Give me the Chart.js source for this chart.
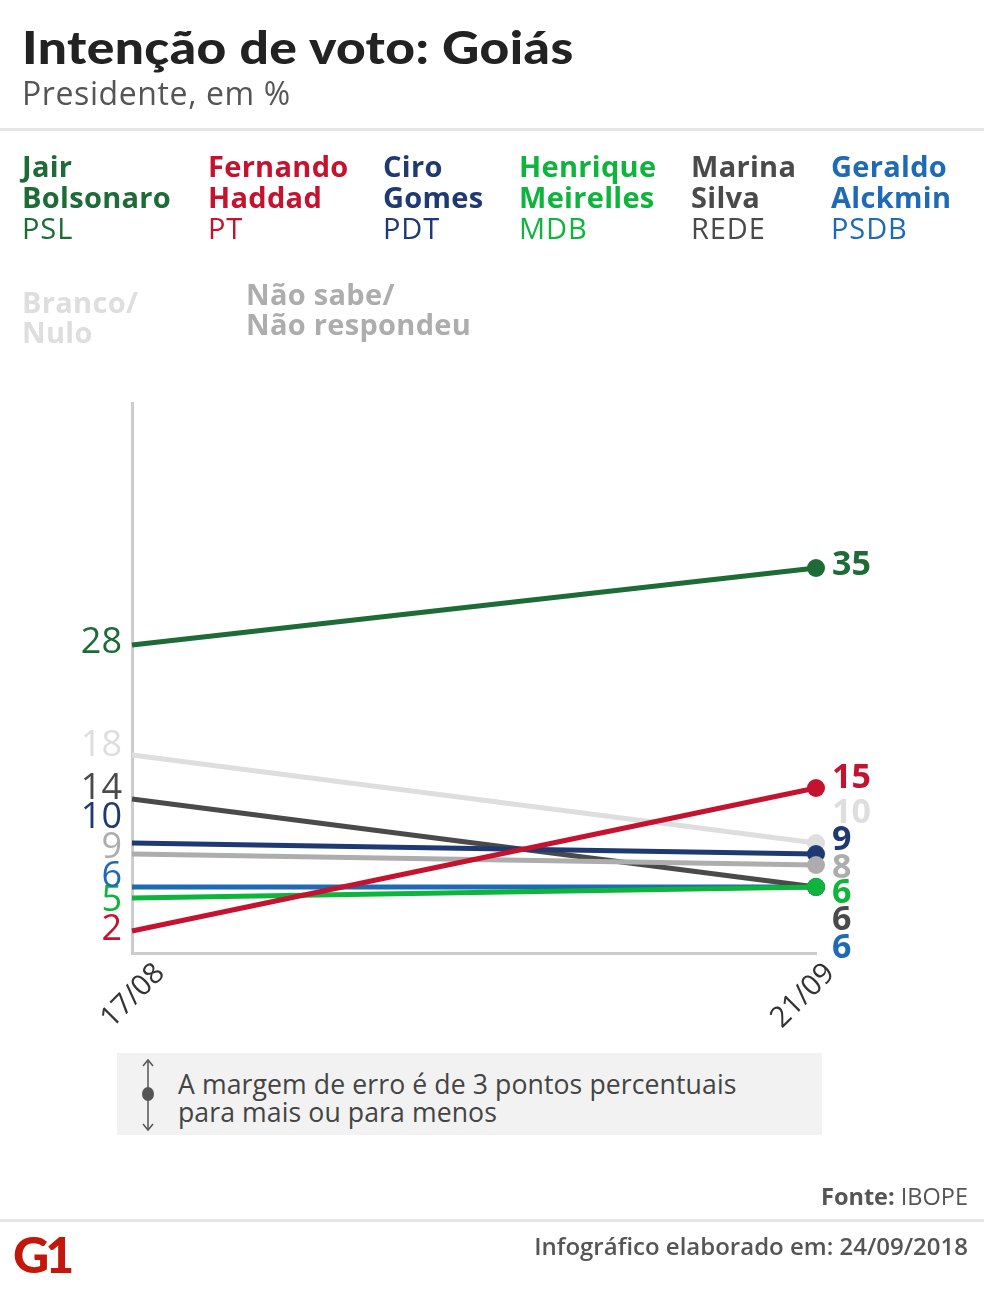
<!DOCTYPE html>
<html><head><meta charset="utf-8">
<script src="https://cdn.jsdelivr.net/npm/chart.js@4.4.1/dist/chart.umd.min.js"></script>
<style>
html,body{margin:0;padding:0;background:#fff;}
body{width:984px;height:1296px;position:relative;overflow:hidden;font-family:"Open Sans",sans-serif;}
#c{position:absolute;left:0;top:0;}
.t{position:absolute;white-space:nowrap;}
#title{left:22px;top:21px;font-family:Lato,sans-serif;font-weight:900;font-size:46px;line-height:52px;color:#222;transform:scaleX(1.12);transform-origin:0 50%;letter-spacing:0.4px;}
#sub{left:22px;top:74px;font-size:32px;line-height:38px;color:#555;letter-spacing:0.6px;}
.hr{position:absolute;left:0;width:984px;height:3px;background:#e6e6e6;}
.leg{position:absolute;font-size:29px;line-height:31px;letter-spacing:0.3px;}
.leg b{font-weight:700;display:block;}
.leg span{display:block;font-weight:400;font-size:29px;letter-spacing:0.9px;}
#note{position:absolute;left:117px;top:1053px;width:705px;height:82px;background:#f2f2f2;}
#notetxt{left:178px;top:1070px;font-size:26.6px;line-height:28px;color:#444;letter-spacing:0.1px;}
#fonte{right:16px;top:1182px;font-size:23.5px;line-height:28px;color:#555;}
#info{right:16px;top:1232px;font-size:24px;line-height:28px;color:#555;font-weight:600;}
#g1{left:13px;top:1226px;font-family:Lato,sans-serif;font-weight:900;font-size:50px;line-height:56px;color:#c4170c;letter-spacing:-4px;}
</style></head>
<body>
<canvas id="c" width="984" height="1296"></canvas>
<div class="t" id="title">Intenção de voto: Goiás</div>
<div class="t" id="sub">Presidente, em %</div>
<div class="hr" style="top:128px"></div>
<div id="legend"></div>
<div id="note"></div>
<svg style="position:absolute;left:136px;top:1058px" width="24" height="74" viewBox="0 0 24 74">
<line x1="12" y1="2" x2="12" y2="72" stroke="#555" stroke-width="1.5"/>
<polyline points="7,8 12,2 17,8" fill="none" stroke="#555" stroke-width="1.5"/>
<polyline points="7,66 12,72 17,66" fill="none" stroke="#555" stroke-width="1.5"/>
<ellipse cx="12" cy="36" rx="6" ry="7" fill="#555"/>
</svg>
<div class="t" id="notetxt">A margem de erro é de 3 pontos percentuais<br>para mais ou para menos</div>
<div class="t" id="fonte"><b>Fonte:</b> IBOPE</div>
<div class="hr" style="top:1219px"></div>
<div class="t" id="info">Infográfico elaborado em: 24/09/2018</div>
<div class="t" id="g1">G1</div>
<script>
// ---- data ----
const categories = ['17/08', '21/09'];
const seriesNames = ['Jair Bolsonaro', 'Fernando Haddad', 'Ciro Gomes', 'Henrique Meirelles', 'Marina Silva', 'Geraldo Alckmin', 'Branco/ Nulo', 'Não sabe/ Não respondeu'];
const parties = ['PSL', 'PT', 'PDT', 'MDB', 'REDE', 'PSDB', '', ''];
const bolsonaro = [28, 35];
const haddad = [2, 15];
const ciro = [10, 9];
const meirelles = [5, 6];
const marina = [14, 6];
const alckmin = [6, 6];
const branco = [18, 10];
const naoSabe = [9, 8];
const yMin = 0, yMax = 50;

// ---- style ----
const values = [bolsonaro, haddad, ciro, meirelles, marina, alckmin, branco, naoSabe];
const colors = ['#1d6b36', '#c4122f', '#1f3a72', '#0eb53c', '#4a4a4a', '#1e6ab4', '#dedede', '#adadad'];
const drawOrder = [0, 1, 4, 2, 5, 6, 7, 3];
const leftOffsets = [-2, -1, -25, 3, -10, -10, -9, -6];
const rightOffsets = [-3, -10, -14, 6, 33, 61, -30, 3];
const legendPos = [[22,150],[208,150],[383,150],[519,150],[691,150],[831,150],[22,287],[246,279]];

// legend
const legEl = document.getElementById('legend');
seriesNames.forEach((n, i) => {
  const d = document.createElement('div');
  d.className = 'leg';
  d.style.left = legendPos[i][0] + 'px';
  d.style.top = legendPos[i][1] + 'px';
  d.style.color = colors[i];
  let words;
  if (n.indexOf('/ ') >= 0) { const k = n.indexOf('/ '); words = [n.slice(0, k + 1), n.slice(k + 2)]; d.style.lineHeight = '30px'; }
  else { const k = n.indexOf(' '); words = [n.slice(0, k), n.slice(k + 1)]; }
  d.innerHTML = '<b>' + words[0] + '</b><b>' + words[1] + '</b>' + (parties[i] ? '<span>' + parties[i] + '</span>' : '');
  legEl.appendChild(d);
});

const labelPlugin = {
  id: 'labels',
  afterDatasetsDraw(chart) {
    const ctx = chart.ctx;
    const xs = chart.scales.x, ys = chart.scales.y;
    ctx.save();
    ctx.textBaseline = 'middle';
    values.forEach((v, i) => {
      const x0 = xs.getPixelForValue(0), x1 = xs.getPixelForValue(1);
      ctx.fillStyle = colors[i];
      ctx.font = '400 36px "Open Sans"';
      ctx.textAlign = 'right';
      ctx.fillText(String(v[0]), x0 - 10, ys.getPixelForValue(v[0]) + leftOffsets[i]);
      ctx.font = '700 34px "Open Sans"';
      ctx.textAlign = 'left';
      ctx.fillText(String(v[1]), x1 + 16, ys.getPixelForValue(v[1]) + rightOffsets[i]);
    });
    // x tick labels
    const dx = [1, -13];
    ctx.fillStyle = '#333';
    ctx.font = '400 29px "Open Sans"';
    ctx.textAlign = 'center';
    categories.forEach((c, j) => {
      ctx.save();
      ctx.translate(xs.getPixelForValue(j) + dx[j], ys.bottom + 43);
      ctx.rotate(-Math.PI / 4);
      ctx.fillText(c, 0, 0);
      ctx.restore();
    });
    ctx.restore();
  }
};

new Chart(document.getElementById('c'), {
  type: 'line',
  data: {
    labels: categories,
    datasets: values.map((v, i) => ({
      label: seriesNames[i],
      data: v,
      borderColor: colors[i],
      backgroundColor: colors[i],
      borderWidth: 5,
      pointRadius: [0, 9],
      pointHoverRadius: [0, 9],
      pointBorderWidth: 0,
      tension: 0,
      clip: false,
      order: drawOrder[i]
    }))
  },
  options: {
    responsive: false,
    animation: false,
    events: [],
    layout: { padding: { left: 132, right: 168, top: 403, bottom: 343 } },
    plugins: { legend: { display: false }, tooltip: { enabled: false } },
    scales: {
      x: {
        type: 'category', offset: false,
        grid: { display: false, drawTicks: false },
        border: { display: true, color: '#cccccc', width: 3 },
        ticks: { display: false }
      },
      y: {
        min: yMin, max: yMax,
        grid: { display: false, drawTicks: false },
        border: { display: true, color: '#cccccc', width: 3 },
        ticks: { display: false }
      }
    }
  },
  plugins: [labelPlugin]
});
</script>
</body></html>
